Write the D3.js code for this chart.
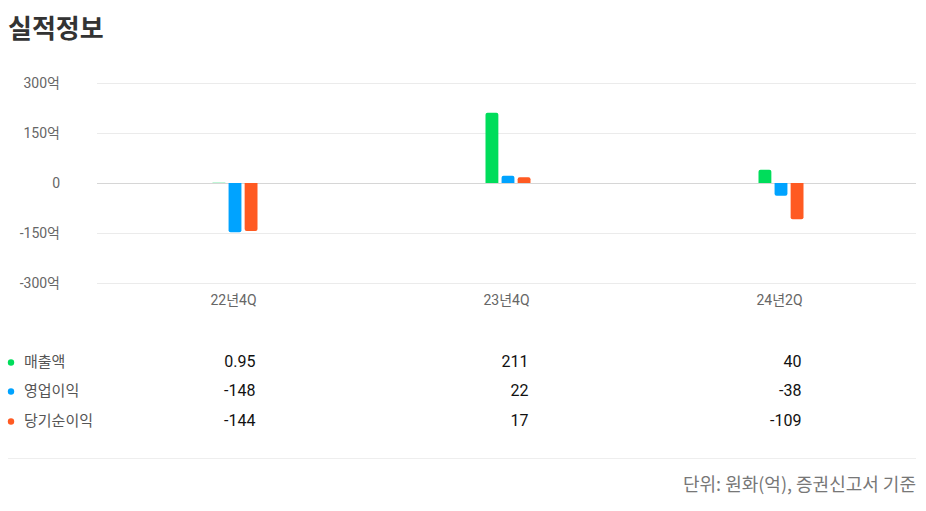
<!DOCTYPE html>
<html><head><meta charset="utf-8">
<script src="https://cdn.jsdelivr.net/npm/d3@7"></script>
<style>
body{margin:0;background:#fff;font-family:Roboto,"Noto Sans CJK KR",sans-serif;}
</style></head>
<body><svg id="c" width="926" height="511"></svg>
<script>
const categories = ["22년4Q","23년4Q","24년2Q"];
const seriesNames = ["매출액","영업이익","당기순이익"];
const seriesColors = ["#00DD5B","#00A3FF","#FF5A22"];
const sales = [0.95, 211, 40];
const operatingProfit = [-148, 22, -38];
const netProfit = [-144, 17, -109];
const salesLabels = ["0.95","211","40"];
const opLabels = ["-148","22","-38"];
const netLabels = ["-144","17","-109"];
const yTicks = [300,150,0,-150,-300];
const yTickLabels = ["300억","150억","0","-150억","-300억"];

const series = [sales, operatingProfit, netProfit];
const labels = [salesLabels, opLabels, netLabels];
const svg = d3.select("#c");
const font = 'Roboto,"Noto Sans CJK KR",sans-serif';

svg.append("text").attr("x",8).attr("y",38).text("실적정보")
  .attr("font-family",'"Noto Sans CJK KR",sans-serif').attr("font-weight",700)
  .attr("font-size",26).attr("fill","#333");

const x = d3.scaleBand().domain(categories).range([97,916]);
const y = d3.scaleLinear().domain([-300,300]).range([283,83]);

// grid
svg.selectAll("line.g").data(yTicks).join("line")
  .attr("x1",97).attr("x2",916)
  .attr("y1",d=>y(d)+0.5).attr("y2",d=>y(d)+0.5)
  .attr("stroke",d=>d===0?"#d6d6d6":"#ebebeb").attr("stroke-width",1);

svg.selectAll("text.yt").data(yTicks).join("text")
  .attr("x",60).attr("y",d=>y(d)+5).attr("text-anchor","end")
  .attr("font-family",font).attr("font-size",14).attr("fill","#666")
  .text((d,i)=>yTickLabels[i]);

// x labels
svg.selectAll("text.xt").data(categories).join("text")
  .attr("x",d=>x(d)+x.bandwidth()/2).attr("y",305).attr("text-anchor","middle")
  .attr("font-family",font).attr("font-size",14).attr("fill","#666").text(d=>d);

// bars
const inner = d3.scaleBand().domain([0,1,2]).range([-21,24]).paddingInner(0.2);
series.forEach((vals,si)=>{
  svg.append("g").selectAll("path").data(vals).join("path")
    .attr("fill",seriesColors[si])
    .attr("d",(v,ci)=>{
      const bx = x(categories[ci])+x.bandwidth()/2 + inner(si);
      const w = inner.bandwidth();
      const y0 = y(0), y1 = y(v);
      const h = Math.abs(y1-y0);
      const r = Math.min(2, h/2, w/2);
      if (v>=0){
        const t=y1;
        return `M${bx},${y0}V${t+r}Q${bx},${t} ${bx+r},${t}H${bx+w-r}Q${bx+w},${t} ${bx+w},${t+r}V${y0}Z`;
      } else {
        const b=y1;
        return `M${bx},${y0}V${b-r}Q${bx},${b} ${bx+r},${b}H${bx+w-r}Q${bx+w},${b} ${bx+w},${b-r}V${y0}Z`;
      }
    });
});

// table
const rowY = [367,396,426];
seriesNames.forEach((n,si)=>{
  svg.append("circle").attr("cx",11).attr("cy",rowY[si]-4.5).attr("r",3.2).attr("fill",seriesColors[si]);
  svg.append("text").attr("x",24).attr("y",rowY[si]).text(n)
    .attr("font-family",'"Noto Sans CJK KR",sans-serif').attr("font-size",15).attr("fill","#555");
  svg.append("g").selectAll("text").data(labels[si]).join("text")
    .attr("x",(d,ci)=>x(categories[ci])+x.bandwidth()/2+22).attr("y",rowY[si])
    .attr("text-anchor","end").attr("font-family",font).attr("font-size",16).attr("fill","#111")
    .text(d=>d);
});

svg.append("line").attr("x1",8).attr("x2",916).attr("y1",458.5).attr("y2",458.5)
  .attr("stroke","#eeeeee");
svg.append("text").attr("x",916).attr("y",491).attr("text-anchor","end")
  .attr("font-family",'"Noto Sans CJK KR",sans-serif').attr("font-size",18).attr("fill","#777")
  .text("단위: 원화(억), 증권신고서 기준");
</script></body></html>
